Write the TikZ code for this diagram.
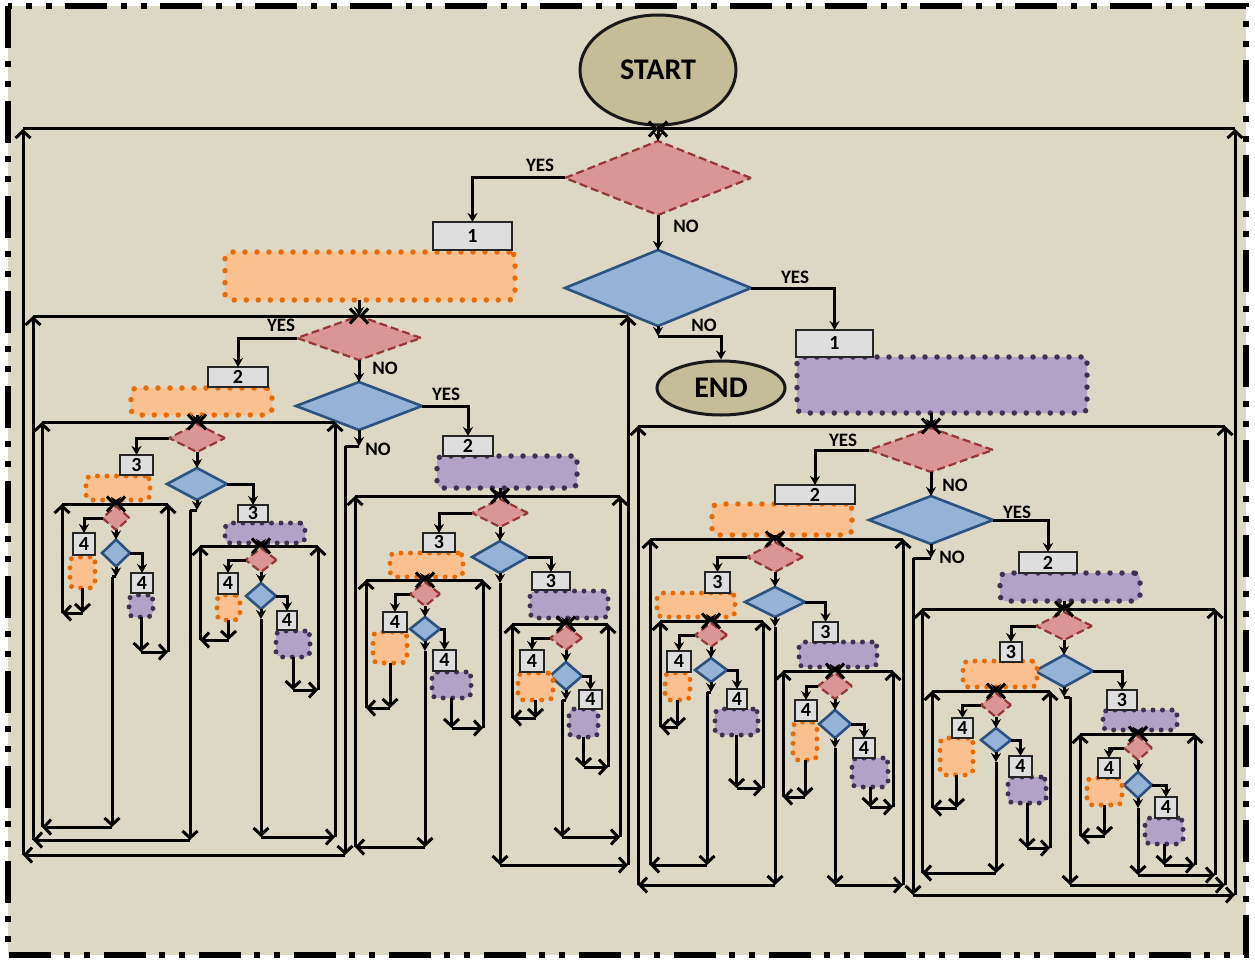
\documentclass[tikz,border=0pt]{standalone}
\usepackage{fontspec}
\setmainfont{Carlito}
\usetikzlibrary{shapes.geometric,arrows.meta,calc}

\definecolor{bg}{HTML}{DDD8C4}
\definecolor{tanfill}{HTML}{C4BD97}
\definecolor{redfill}{HTML}{D99694}
\definecolor{redline}{HTML}{953735}
\definecolor{bluefill}{HTML}{95B3D7}
\definecolor{blueline}{HTML}{2B5280}
\definecolor{boxfill}{HTML}{DEDEDE}
\definecolor{orafill}{HTML}{FAC090}
\definecolor{oradot}{HTML}{E46C0A}
\definecolor{purfill}{HTML}{B3A2C7}
\definecolor{purdot}{HTML}{3F3151}

\tikzset{
  conn/.style={line width=3pt, black},
  fl/.style={conn, -{Stealth[length=9pt,width=10pt]}},
  lp/.style={conn, -{Straight Barb[length=7pt,width=15pt]}},
  reddia/.style={diamond, fill=redfill, draw=redline, line width=2.2pt,
    dash pattern=on 8pt off 4pt, inner sep=0pt, outer sep=0pt},
  bluedia/.style={diamond, fill=bluefill, draw=blueline, line width=2.6pt,
    inner sep=0pt, outer sep=0pt},
  numbox/.style={rectangle, fill=boxfill, draw=black!85, line width=2.8pt,
    inner sep=0pt, outer sep=0pt, font=\fontsize{20}{21}\selectfont\bfseries},
  dotblk/.style={rectangle, rounded corners=6pt, line cap=round,
    inner sep=0pt, outer sep=0pt},
  orabig/.style={dotblk, fill=orafill, draw=oradot, line width=5.5pt, dash pattern=on 0pt off 12pt},
  purbig/.style={dotblk, fill=purfill, draw=purdot, line width=5.5pt, dash pattern=on 0pt off 12pt},
  orasmall/.style={dotblk, rounded corners=5pt, fill=orafill, draw=oradot, line width=5pt, dash pattern=on 0pt off 9.5pt},
  pursmall/.style={dotblk, rounded corners=5pt, fill=purfill, draw=purdot, line width=5pt, dash pattern=on 0pt off 9.5pt},
  termnode/.style={ellipse, fill=tanfill, draw=black!90, line width=3pt,
    inner sep=0pt, font=\fontsize{30}{32}\selectfont\bfseries},
  lab/.style={inner sep=0pt, font=\fontsize{19}{21}\selectfont\bfseries}
}

% decision pair: name, x, red y, red w, red h, blue y, blue w, blue h, entry lift
\newcommand\fcdec[9]{%
  \node[reddia, minimum width=#4pt, minimum height=#5pt] (#1r) at (#2,#3) {};
  \node[bluedia, minimum width=#7pt, minimum height=#8pt] (#1b) at (#2,#6) {};
  \draw[fl] (#1r.south) -- (#1b.north);
  \coordinate (#1in) at ($(#1r.north)+(0,-#9)$);
}
% numbered box: name, x1, y1, x2, y2, text
\newcommand\fcbox[6]{%
  \node[numbox, minimum width={(#4-#2)*1pt}, minimum height={(#5-#3)*1pt}]
    (#1) at ({(#2+#4)/2},{(#3+#5)/2}) {#6};}
% dotted block: name, x1, y1, x2, y2, style
\newcommand\fcblk[6]{%
  \node[#6, minimum width={(#4-#2)*1pt}, minimum height={(#5-#3)*1pt}]
    (#1) at ({(#2+#4)/2},{(#3+#5)/2}) {};}
% entry from above and the two YES branches
\newcommand\fcwire[4]{%
  \draw[fl] (#2.south -| #1r.north) -- (#1r.north);
  \draw[fl] (#1r.west) -| (#3.north);
  \draw[fl] (#1b.east) -| (#4.north);}
% NO exit of a blue decision: name, drop, sideways jog
\newcommand\fcno[3]{%
  \draw[fl] (#1b.south) -- ++(0,#2) coordinate (#1no);
  \path (#1no) ++(#3,0) coordinate (#1j);
  \draw[conn] (#1no) -- (#1j);}
% return loop into a decision: name, side, loop x, bottom y, source
\newcommand\fcfeed[5]{%
  \coordinate (#1#2b) at (#3,#4);
  \coordinate (#1#2e) at (#5 |- #1#2b);
  \coordinate (#1#2t) at (#1#2b |- #1in);
  \draw[lp] (#5) -- (#1#2e);
  \draw[lp] (#1#2e) -- (#1#2b);
  \draw[lp] (#1#2b) -- (#1#2t);
  \draw[lp] (#1#2t) -- (#1in);}

\begin{document}
\begin{tikzpicture}[x=1pt,y=-1pt]
\useasboundingbox (0,0) rectangle (1255,960);
\fill[white] (0,0) rectangle (1255,960);
\fill[bg] (8,6) rectangle (1246,955);
\draw[line width=6pt, dash pattern=on 42pt off 13pt on 6pt off 14pt on 6pt off 14pt]
  (8,6) rectangle (1246,955);

% terminals
\node[termnode, minimum width=156pt, minimum height=110pt] (nstart) at (658,70) {START};
\node[termnode, minimum width=128pt, minimum height=54pt] (nend) at (721,388) {END};

% decisions
\fcdec{D0}{658}{178}{186}{74}{288}{186}{76}{12}
\fcdec{D1L}{359}{338}{124}{44}{406}{126}{48}{0}
\fcdec{D1R}{931}{450}{124}{44}{520}{124}{48}{2}
\fcdec{D2LL}{197}{438}{56}{28}{484}{60}{32}{2}
\fcdec{D2LR}{500}{513}{56}{28}{557}{56}{32}{3}
\fcdec{D2RL}{775}{557}{56}{30}{602}{60}{30}{3}
\fcdec{D2RR}{1064}{626}{56}{28}{671}{58}{32}{3}
\fcdec{D3a}{116}{518}{27}{24}{553}{28}{27}{2}
\fcdec{D3b}{261}{560}{31}{24}{596}{30}{26}{2}
\fcdec{D3c}{425}{594}{30}{24}{629}{30}{24}{2}
\fcdec{D3d}{566}{638}{32}{24}{676}{32}{28}{2}
\fcdec{D3e}{711}{635}{32}{24}{670}{32}{24}{2}
\fcdec{D3f}{835}{686}{34}{26}{724}{32}{28}{2}
\fcdec{D3g}{996}{705}{30}{24}{740}{30}{24}{2}
\fcdec{D3h}{1138}{748}{28}{24}{785}{28}{26}{2}

% first level blocks
\fcblk{O1L}{225}{252}{515}{300}{orabig}
\fcbox{B1L}{433}{222}{512}{250}{1}
\fcblk{P1R}{797}{357}{1087}{413}{purbig}
\fcbox{B1R}{796}{330}{873}{357}{1}
% second level blocks
\fcblk{O2LL}{131}{388}{272}{415}{orabig}
\fcbox{B2LL}{208}{367}{268}{387}{2}
\fcblk{P2LR}{437}{456}{577}{488}{purbig}
\fcbox{B2LR}{443}{436}{493}{456}{2}
\fcblk{O2RL}{712}{504}{852}{535}{orabig}
\fcbox{B2RL}{775}{485}{855}{504}{2}
\fcblk{P2RR}{1000}{573}{1140}{601}{purbig}
\fcbox{B2RR}{1019}{552}{1077}{573}{2}
% third level blocks
\fcblk{O3a}{86}{476}{150}{500}{orasmall}
\fcbox{B3a}{120}{455}{153}{475}{3}
\fcblk{P3b}{225}{523}{305}{543}{pursmall}
\fcbox{B3b}{238}{505}{268}{522}{3}
\fcblk{O3c}{390}{553}{463}{577}{orasmall}
\fcbox{B3c}{423}{533}{455}{552}{3}
\fcblk{P3d}{530}{591}{608}{618}{pursmall}
\fcbox{B3d}{532}{572}{570}{590}{3}
\fcblk{O3e}{657}{593}{735}{617}{orasmall}
\fcbox{B3e}{705}{572}{730}{593}{3}
\fcblk{P3f}{799}{642}{877}{667}{pursmall}
\fcbox{B3f}{813}{622}{838}{642}{3}
\fcblk{O3g}{963}{661}{1037}{687}{orasmall}
\fcbox{B3g}{1000}{642}{1022}{662}{3}
\fcblk{P3h}{1103}{710}{1177}{730}{pursmall}
\fcbox{B3h}{1107}{690}{1137}{710}{3}
% fourth level blocks
\fcblk{O4a}{70}{557}{95}{588}{orasmall}
\fcbox{B4a1}{73}{533}{95}{555}{4}
\fcblk{P4a}{129}{595}{153}{617}{pursmall}
\fcbox{B4a2}{131}{573}{153}{593}{4}
\fcblk{O4b}{217}{595}{240}{620}{orasmall}
\fcbox{B4b1}{218}{573}{238}{594}{4}
\fcblk{P4b}{276}{631}{310}{657}{pursmall}
\fcbox{B4b2}{277}{611}{297}{630}{4}
\fcblk{O4c}{373}{632}{407}{663}{orasmall}
\fcbox{B4c1}{383}{612}{407}{632}{4}
\fcblk{P4c}{432}{672}{471}{698}{pursmall}
\fcbox{B4c2}{433}{650}{456}{671}{4}
\fcblk{O4d}{518}{673}{553}{700}{orasmall}
\fcbox{B4d1}{520}{650}{544}{672}{4}
\fcblk{P4d}{569}{709}{598}{737}{pursmall}
\fcbox{B4d2}{579}{690}{602}{709}{4}
\fcblk{O4e}{665}{673}{690}{700}{orasmall}
\fcbox{B4e1}{667}{651}{691}{672}{4}
\fcblk{P4e}{715}{709}{758}{735}{pursmall}
\fcbox{B4e2}{727}{689}{747}{709}{4}
\fcblk{O4f}{793}{722}{817}{760}{orasmall}
\fcbox{B4f1}{795}{700}{817}{721}{4}
\fcblk{P4f}{852}{758}{888}{787}{pursmall}
\fcbox{B4f2}{853}{738}{875}{758}{4}
\fcblk{O4g}{940}{738}{973}{775}{orasmall}
\fcbox{B4g1}{952}{718}{973}{738}{4}
\fcblk{P4g}{1008}{777}{1046}{803}{pursmall}
\fcbox{B4g2}{1009}{756}{1032}{777}{4}
\fcblk{O4h}{1087}{778}{1122}{805}{orasmall}
\fcbox{B4h1}{1098}{758}{1120}{778}{4}
\fcblk{P4h}{1145}{818}{1183}{844}{pursmall}
\fcbox{B4h2}{1155}{797}{1177}{818}{4}

% forward flow
\fcwire{D0}{nstart}{B1L}{B1R}
\fcwire{D1L}{O1L}{B2LL}{B2LR}
\fcwire{D1R}{P1R}{B2RL}{B2RR}
\fcwire{D2LL}{O2LL}{B3a}{B3b}
\fcwire{D2LR}{P2LR}{B3c}{B3d}
\fcwire{D2RL}{O2RL}{B3e}{B3f}
\fcwire{D2RR}{P2RR}{B3g}{B3h}
\fcwire{D3a}{O3a}{B4a1}{B4a2}
\fcwire{D3b}{P3b}{B4b1}{B4b2}
\fcwire{D3c}{O3c}{B4c1}{B4c2}
\fcwire{D3d}{P3d}{B4d1}{B4d2}
\fcwire{D3e}{O3e}{B4e1}{B4e2}
\fcwire{D3f}{P3f}{B4f1}{B4f2}
\fcwire{D3g}{O3g}{B4g1}{B4g2}
\fcwire{D3h}{P3h}{B4h1}{B4h2}

% NO exits
\draw[fl] (D0b.south) -- ++(0,10) coordinate (D0no);
\draw[fl] (D0no) -| (nend.north);
\fcno{D1L}{16}{-14}
\fcno{D1R}{14}{-18}
\fcno{D2LL}{10}{-7}
\fcno{D2LR}{10}{0}
\fcno{D2RL}{10}{0}
\fcno{D2RR}{10}{6}
\fcno{D3a}{10}{-4}
\fcno{D3b}{10}{0}
\fcno{D3c}{10}{0}
\fcno{D3d}{10}{-4}
\fcno{D3e}{10}{-4}
\fcno{D3f}{10}{0}
\fcno{D3g}{10}{0}
\fcno{D3h}{10}{0}

% return loops
\fcfeed{D0}{l}{23}{855}{D1Lj}
\fcfeed{D0}{r}{1235}{895}{D1Rj}
\fcfeed{D1L}{l}{33}{840}{D2LLj}
\fcfeed{D1L}{r}{628}{865}{D2LRj}
\fcfeed{D1R}{l}{638}{885}{D2RLj}
\fcfeed{D1R}{r}{1225}{885}{D2RRj}
\fcfeed{D2LL}{l}{42}{827}{D3aj}
\fcfeed{D2LL}{r}{335}{837}{D3bj}
\fcfeed{D2LR}{l}{355}{847}{D3cj}
\fcfeed{D2LR}{r}{620}{837}{D3dj}
\fcfeed{D2RL}{l}{650}{865}{D3ej}
\fcfeed{D2RL}{r}{903}{885}{D3fj}
\fcfeed{D2RR}{l}{922}{873}{D3gj}
\fcfeed{D2RR}{r}{1215}{875}{D3hj}
\fcfeed{D3a}{l}{62}{613}{O4a.south}
\fcfeed{D3a}{r}{168}{652}{P4a.south}
\fcfeed{D3b}{l}{200}{640}{O4b.south}
\fcfeed{D3b}{r}{318}{690}{P4b.south}
\fcfeed{D3c}{l}{366}{708}{O4c.south}
\fcfeed{D3c}{r}{483}{728}{P4c.south}
\fcfeed{D3d}{l}{512}{718}{O4d.south}
\fcfeed{D3d}{r}{608}{767}{P4d.south}
\fcfeed{D3e}{l}{660}{727}{O4e.south}
\fcfeed{D3e}{r}{763}{788}{P4e.south}
\fcfeed{D3f}{l}{783}{797}{O4f.south}
\fcfeed{D3f}{r}{893}{807}{P4f.south}
\fcfeed{D3g}{l}{932}{808}{O4g.south}
\fcfeed{D3g}{r}{1050}{848}{P4g.south}
\fcfeed{D3h}{l}{1080}{836}{O4h.south}
\fcfeed{D3h}{r}{1195}{865}{P4h.south}

% branch labels
\node[lab] (lyes0) at (540,165) {YES};
\node[lab] (lno0) at (686,226) {NO};
\node[lab] (lyes0b) at (795,277) {YES};
\node[lab] (lno0b) at (704,325) {NO};
\node[lab] (lyes1L) at (281,325) {YES};
\node[lab] (lno1L) at (385,368) {NO};
\node[lab] (lyes1Lb) at (446,394) {YES};
\node[lab] (lno1Lb) at (378,449) {NO};
\node[lab] (lyes1R) at (843,440) {YES};
\node[lab] (lno1R) at (955,485) {NO};
\node[lab] (lyes1Rb) at (1017,512) {YES};
\node[lab] (lno1Rb) at (952,557) {NO};
\end{tikzpicture}
\end{document}
